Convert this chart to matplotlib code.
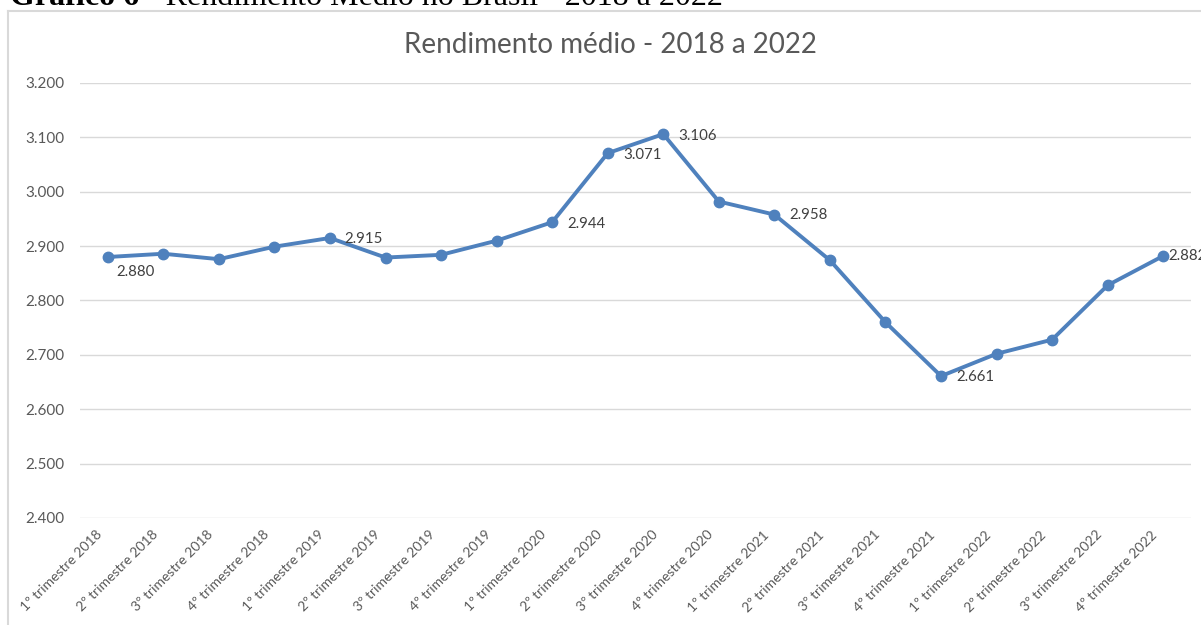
import matplotlib
matplotlib.use("Agg")
import matplotlib.pyplot as plt
import matplotlib.transforms as mtransforms
from matplotlib.lines import Line2D

# --- data ---
quarters = [
    "1º trimestre 2018", "2º trimestre 2018", "3º trimestre 2018", "4º trimestre 2018",
    "1º trimestre 2019", "2º trimestre 2019", "3º trimestre 2019", "4º trimestre 2019",
    "1º trimestre 2020", "2º trimestre 2020", "3º trimestre 2020", "4º trimestre 2020",
    "1º trimestre 2021", "2º trimestre 2021", "3º trimestre 2021", "4º trimestre 2021",
    "1º trimestre 2022", "2º trimestre 2022", "3º trimestre 2022", "4º trimestre 2022",
]
rendimento = [2880, 2886, 2876, 2899, 2915, 2879, 2884, 2910, 2944, 3071,
              3106, 2982, 2958, 2874, 2760, 2661, 2702, 2728, 2828, 2882]
labelled = [0, 4, 8, 9, 10, 12, 15, 19]
yticks = [2400, 2500, 2600, 2700, 2800, 2900, 3000, 3100, 3200]

BLUE = "#4F81BD"
GREY = "#595959"
GRID = "#D9D9D9"
FONT = "Lato"

fig = plt.figure(figsize=(12.01, 6.25), dpi=100)
fig.patch.set_facecolor("white")
W, H = 1201, 625

# chart frame (cropped screenshot: only left and top edges visible)
fig.add_artist(Line2D([8 / W, 8 / W], [0, 1 - 11 / H], color=GRID, lw=1.5,
                      transform=fig.transFigure))
fig.add_artist(Line2D([8 / W, 1], [1 - 11 / H, 1 - 11 / H], color=GRID, lw=1.5,
                      transform=fig.transFigure))

# document caption above the chart, cut off by the crop
cap_y = 1 - 5 / H
t1 = fig.text(10 / W, cap_y, "Gráfico 6", fontsize=23, fontweight="bold",
              family="Liberation Serif", va="baseline", ha="left")
fig.canvas.draw()
bb = t1.get_window_extent(renderer=fig.canvas.get_renderer())
fig.text(bb.x1 / W, cap_y, " - Rendimento Médio no Brasil - 2018 a 2022",
         fontsize=23, family="Liberation Serif", va="baseline", ha="left")

ax = fig.add_axes([80 / W, 1 - 518 / H, (1191 - 80) / W, (518 - 83) / H])
x = range(len(quarters))
ax.plot(x, rendimento, color=BLUE, lw=2.8, marker="o", markersize=7.5,
        solid_capstyle="round", zorder=3)

ax.set_xlim(-0.5, len(quarters) - 0.5)
ax.set_ylim(yticks[0], yticks[-1])
ax.set_yticks(yticks)
ax.set_yticklabels([f"{v / 1000:.3f}" for v in yticks], fontsize=11,
                   color=GREY, family=FONT)
ax.set_xticks(list(x))
ax.set_xticklabels(quarters, rotation=45, ha="right", rotation_mode="anchor",
                   fontsize=10, color=GREY, family=FONT)
ax.tick_params(axis="both", length=0)
ax.tick_params(axis="y", pad=11)
ax.tick_params(axis="x", pad=4)
shift = mtransforms.ScaledTranslation(-12 / 100, -5 / 100, fig.dpi_scale_trans)
for lab in ax.get_xticklabels():
    lab.set_transform(lab.get_transform() + shift)
ax.grid(axis="y", color=GRID, lw=1)
ax.set_axisbelow(True)
for s in ax.spines.values():
    s.set_visible(False)

# data labels (offsets in points, hand placed as in the original)
offsets = {0: (6, -11), 4: (10, -1), 8: (11, -1), 9: (11, -1), 10: (11, -1),
           12: (11, 0), 15: (11, -1), 19: (4, 0)}
for i in labelled:
    ax.annotate(f"{rendimento[i] / 1000:.3f}", (i, rendimento[i]),
                xytext=offsets[i], textcoords="offset points",
                ha="left", va="center", fontsize=10.8, color="#404040",
                family=FONT, annotation_clip=False)

fig.text(610 / W, 1 - 45 / H, "Rendimento médio - 2018 a 2022", fontsize=20,
         color=GREY, family=FONT, ha="center", va="center")

fig.savefig("out.png", dpi=100)
